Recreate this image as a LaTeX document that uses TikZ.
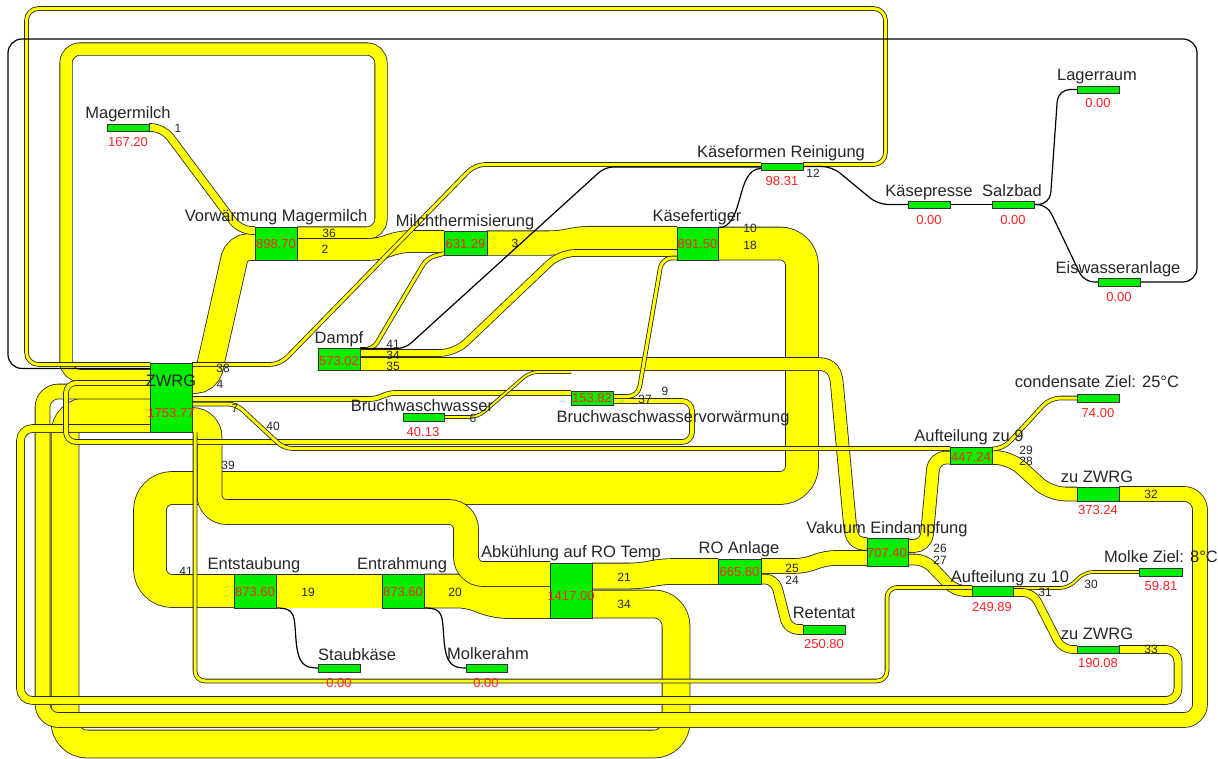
\documentclass[tikz,border=0pt]{standalone}
\usepackage{fontspec}
\setmainfont{Liberation Sans}
\pgfdeclarelayer{bands}
\pgfsetlayers{bands,main}
\definecolor{bandY}{RGB}{255,255,0}
\definecolor{boxG}{RGB}{0,238,0}
\definecolor{valR}{RGB}{255,35,35}
\newcommand\flowband[3][]{%
  \draw[#1,line width=#2pt+1.6pt,draw=black!85] #3;%
  \draw[#1,line width=#2pt,draw=bandY] #3;}
\begin{document}
\begin{tikzpicture}[x=1pt,y=-1pt,
  gbox/.style={draw=black!80,line width=0.7pt,fill=boxG,inner sep=0pt,outer sep=0pt,minimum width=42pt},
  lab/.style={anchor=base,inner sep=0pt,font=\fontsize{16.5}{19}\selectfont,text=black!85},
  val/.style={anchor=base,inner sep=0pt,font=\fontsize{13}{15}\selectfont,text=valR},
  num/.style={anchor=base,inner sep=0pt,font=\fontsize{12}{14}\selectfont,text=black!85},
  zline/.style={draw=black,line width=1.2pt}]
\useasboundingbox (0,0) rectangle (1218,758);
% ---------------- boxes
\node[gbox,minimum height=7pt] (mm) at (128,127.5) {};
\node[gbox,minimum height=33pt] (vm) at (276,243.5) {};
\node[gbox,minimum width=43pt,minimum height=24pt] (mt) at (465.5,243) {};
\node[gbox,minimum width=41pt,minimum height=33pt] (kf) at (697.5,243.5) {};
\node[gbox,minimum height=7pt] (kr) at (782,166.5) {};
\node[gbox,minimum height=7pt] (kp) at (929,204.5) {};
\node[gbox,minimum height=7pt] (sb) at (1013,204.5) {};
\node[gbox,minimum height=7pt] (lr) at (1098,89.5) {};
\node[gbox,minimum height=8pt] (ew) at (1119,282) {};
\node[gbox,minimum height=22pt] (dp) at (339,359) {};
\node[gbox,minimum height=69pt] (zw) at (171,397.5) {};
\node[gbox,minimum width=41pt,minimum height=8pt] (bw) at (423.5,417) {};
\node[gbox,minimum height=14pt] (bv) at (592,398) {};
\node[gbox,minimum width=41pt,minimum height=28pt] (ve) at (887.5,552) {};
\node[gbox,minimum height=17pt] (a9) at (971,455.5) {};
\node[gbox,minimum height=8pt] (cz) at (1098,398) {};
\node[gbox,minimum height=14pt] (z1) at (1098,494) {};
\node[gbox,minimum width=41pt,minimum height=10pt] (a10) at (992.5,591) {};
\node[gbox,minimum width=43pt,minimum height=8pt] (mz) at (1160.5,572) {};
\node[gbox,minimum height=7pt] (z2) at (1098,649.5) {};
\node[gbox,minimum width=43pt,minimum height=25pt] (ro) at (739.5,571.5) {};
\node[gbox,minimum height=9pt] (rt) at (824,629.5) {};
\node[gbox,minimum height=55pt] (ak) at (571,590.5) {};
\node[gbox,minimum height=34pt] (er) at (403,591) {};
\node[gbox,minimum height=34pt] (es) at (255,591) {};
\node[gbox,minimum height=8pt] (sk) at (339,668) {};
\node[gbox,minimum width=41pt,minimum height=8pt] (mr) at (486.5,668) {};
\coordinate (bwx) at (571,372);
% ---------------- flows
\begin{pgfonlayer}{bands}
\fill[white] (0,0) rectangle (1218,758);
\flowband[rounded corners=22pt]{27}{([yshift=-41pt]ak.north east) -- (676,604) -- (676,744) -- (65,744) -- (65,411.5) -- ([yshift=-48.5pt]zw.north west)}
\flowband[rounded corners=16pt]{14}{(z1.east) -- (1200,494) -- (1200,720) -- (42.5,720) -- (42.5,391.5) -- ([yshift=-28.5pt]zw.north west)}
\flowband[rounded corners=12pt]{7}{(z2.east) -- (1178,649.5) -- (1178,700.5) -- (20.5,700.5) -- (20.5,428.5) -- ([yshift=-65.5pt]zw.north west)}
\flowband[rounded corners=14pt]{11.5}{([yshift=-6pt]vm.north east) -- (381,233) -- (381,49) -- (66,49) -- (66,375.5) -- ([yshift=-12.5pt]zw.north west)}
\flowband[rounded corners=12pt]{3}{([yshift=-1.5pt]kr.north east) -- (885.5,164.5) -- (885.5,8.5) -- (26.5,8.5) -- (26.5,364.5) -- ([yshift=-1.5pt]zw.north west)}
\draw[zline,rounded corners=14pt] (ew.east) -- (1197,282) -- (1197,39) -- (8,39) -- (8,368.5) -- ([yshift=-5.5pt]zw.north west);
\flowband[rounded corners=22pt]{32}{(kf.east) -- (802,243.5) -- (802,488) -- (150,488) -- (150,591) -- (es.west)}
\flowband[rounded corners=12pt]{33}{(er.east) -- (470,591) -- (495,601.5) -- ([yshift=-38.5pt]ak.north west)}
\flowband{33}{(es.east) -- (er.west)}
\flowband[rounded corners=17pt]{24}{([yshift=-57pt]zw.north east) -- (209.5,420) -- (209.5,512) -- (466,512) -- (466,574) -- ([yshift=-11pt]ak.north west)}
\flowband[rounded corners=10pt]{4}{([yshift=-10pt]bv.north east) -- (692,401) -- (692,442) -- (66,442) -- (66,383) -- ([yshift=-20pt]zw.north west)}
\flowband[rounded corners=12pt]{26}{([yshift=-17pt]zw.north east) -- (207,380) -- (237,247) -- ([yshift=-20pt]vm.north west)}
\flowband[rounded corners=12pt]{7}{(mm.east) -- (163,127.5) -- (240,230.5) -- ([yshift=-3.5pt]vm.north west)}
\flowband[rounded corners=10pt]{21}{([yshift=-22.5pt]vm.north east) -- (378,249.5) -- (400,241.5) -- ([yshift=-10.5pt]mt.north west)}
\flowband[rounded corners=10pt]{23.5}{(mt.east) -- (560,243) -- (580,238.5) -- ([yshift=-11.5pt]kf.north west)}
\flowband[rounded corners=10pt]{3}{([yshift=-1.5pt]zw.north east) -- (280,364.5) -- (475,164.5) -- ([yshift=-1.5pt]kr.north west)}
\flowband[rounded corners=8pt]{3}{([yshift=-1.5pt]dp.north east) -- (373,349.5) -- (427,258) -- ([yshift=-22.5pt]mt.north west)}
\draw[zline,rounded corners=8pt] ([yshift=-0.5pt]dp.north east) -- (405,348.5) -- (605,167) -- ([yshift=-4pt]kr.north west);
\flowband[rounded corners=15pt]{6}{([yshift=-5pt]dp.north east) -- (455,353) -- (560,253) -- ([yshift=-26pt]kf.north west)}
\flowband{12}{([yshift=-16pt]dp.north east) -- (818,364) .. controls (832,364) and (836,372) .. (837,385) -- (850,525) .. controls (851,538) and (855,544) .. ([yshift=-6pt]ve.north west)}
\flowband[rounded corners=8pt]{3}{([yshift=-41pt]zw.north east) -- (236,404) -- (284,448.5) -- ([yshift=-1.5pt]a9.north west)}
\flowband[rounded corners=5pt]{4}{([yshift=-36pt]zw.north east) -- (375,399) -- (390,393) -- ([yshift=-2pt]bv.north west)}
\flowband[rounded corners=10pt]{3}{([yshift=-5.5pt]bv.north east) -- (638,396.5) -- (662,258) -- ([yshift=-31pt]kf.north west)}
\flowband[rounded corners=8pt]{2}{(bw.east) -- (478,417) -- (530,372) -- (bwx)}
\flowband[rounded corners=10pt]{25}{([yshift=-13pt]ak.north east) -- (640,576) -- (662,571.5) -- (ro.west)}
\flowband[rounded corners=10pt]{9}{([yshift=-20pt]ro.north east) -- (775,579) -- (788,629.5) -- (rt.west)}
\flowband[rounded corners=10pt]{14}{([yshift=-7pt]ro.north east) -- (805,566) -- (825,558) -- ([yshift=-20pt]ve.north west)}
\flowband[rounded corners=12pt]{12}{([yshift=-8pt]ve.north east) -- (926,546) -- (934,457.5) -- ([yshift=-10.5pt]a9.north west)}
\flowband[rounded corners=10pt]{10}{([yshift=-21.5pt]ve.north east) -- (925,559.5) -- (955,591) -- (a10.west)}
\flowband[rounded corners=15pt]{13}{([yshift=-10.5pt]a9.north east) -- (1010,457.5) -- (1050,494) -- (z1.west)}
\flowband[rounded corners=10pt]{3}{([yshift=-2pt]a9.north east) -- (1003,449) -- (1050,398) -- (cz.west)}
\flowband[rounded corners=8pt]{2}{([yshift=-2pt]a10.north east) -- (1068,588) -- (1085,572) -- (mz.west)}
\flowband[rounded corners=10pt]{7}{([yshift=-6.5pt]a10.north east) -- (1033,592.5) -- (1062,649.5) -- (z2.west)}
\flowband[rounded corners=10pt]{3}{([yshift=-1.5pt]a10.north west) -- (887,587.5) -- (887,681) -- (195,681) -- ([xshift=3pt]zw.south east)}
\draw[zline] ([yshift=-0.8pt]kf.north east) .. controls (745,227.5) and (735,168.5) .. ([yshift=-5.5pt]kr.north west);
\draw[zline,rounded corners=10pt] (kr.east) -- (832,166.5) -- (878,204.5) -- (kp.west);
\draw[zline] (kp.east) -- (sb.west);
\draw[zline,rounded corners=12pt] (sb.east) -- (1050,204.5) -- (1058,89.5) -- (lr.west);
\draw[zline,rounded corners=10pt] (sb.east) -- (1047,204.5) -- (1084,282) -- (ew.west);
\draw[zline] (es.south east) .. controls (296,608) and (294,615) .. (296,640) .. controls (298,665) and (305,668) .. (sk.west);
\draw[zline] (er.south east) .. controls (444,608) and (442,615) .. (444,640) .. controls (446,665) and (453,668) .. (mr.west);
\end{pgfonlayer}
% ---------------- labels
\node[lab] (tmm) at (128,118) {Magermilch};
\node[lab] (tvm) at (276,221) {Vorwärmung Magermilch};
\node[lab] (tmt) at (465,226) {Milchthermisierung};
\node[lab] (tkf) at (697,221) {Käsefertiger};
\node[lab] (tkr) at (781,157) {Käseformen Reinigung};
\node[lab] (tkp) at (929,196) {Käsepresse};
\node[lab] (tsb) at (1012,196) {Salzbad};
\node[lab] (tlr) at (1097,80) {Lagerraum};
\node[lab] (tew) at (1118,273) {Eiswasseranlage};
\node[lab] (tdp) at (339,343) {Dampf};
\node[lab] (tzw) at (171,386) {ZWRG};
\node[lab] (tbw) at (422,411) {Bruchwaschwasser};
\node[lab] (tbv) at (673,422) {Bruchwaschwasservorwärmung};
\node[lab] (tve) at (887,533) {Vakuum Eindampfung};
\node[lab] (ta9) at (969,441) {Aufteilung zu 9};
\node[lab] (tcz) at (1097,387) {condensate Ziel: 25°C};
\node[lab] (tz1) at (1097,482) {zu ZWRG};
\node[lab] (ta10) at (1010,582) {Aufteilung zu 10};
\node[lab,anchor=base west] (tmz) at (1104,562) {Molke Ziel: 8°C};
\node[lab] (tz2) at (1097,639) {zu ZWRG};
\node[lab] (tro) at (739,553) {RO Anlage};
\node[lab] (trt) at (824,618) {Retentat};
\node[lab] (tak) at (571,557) {Abkühlung auf RO Temp};
\node[lab] (ter) at (402,569) {Entrahmung};
\node[lab] (tes) at (254,569) {Entstaubung};
\node[lab,anchor=base west] (tsk) at (318,660) {Staubkäse};
\node[lab,anchor=base west] (tmr) at (447,659) {Molkerahm};
% ---------------- values
\node[val] (vmm) at (128,146) {167.20};
\node[val] (vvm) at (276,248) {898.70};
\node[val] (vmt) at (465.5,248) {631.29};
\node[val] (vkf) at (697.5,248) {891.50};
\node[val] (vkr) at (782,185) {98.31};
\node[val] (vkp) at (929,224) {0.00};
\node[val] (vsb) at (1013,224) {0.00};
\node[val] (vlr) at (1098,107) {0.00};
\node[val] (vew) at (1119,301) {0.00};
\node[val] (vdp) at (339,365) {573.02};
\node[val] (vzw) at (171,417) {1753.77};
\node[val] (vbw) at (423,436) {40.13};
\node[val] (vbv) at (592,402) {153.82};
\node[val] (vve) at (887,557) {707.40};
\node[val] (va9) at (971,461) {447.24};
\node[val] (vcz) at (1098,417) {74.00};
\node[val] (vz1) at (1098,514) {373.24};
\node[val] (va10) at (992,611) {249.89};
\node[val] (vmz) at (1161,590) {59.81};
\node[val] (vz2) at (1098,667) {190.08};
\node[val] (vro) at (739.5,576) {665.60};
\node[val] (vrt) at (824,648) {250.80};
\node[val] (vak) at (571,600) {1417.00};
\node[val] (ver) at (403,596) {873.60};
\node[val] (ves) at (255,596) {873.60};
\node[val] (vsk) at (339,687) {0.00};
\node[val] (vmr) at (486,687) {0.00};
% ---------------- flow numbers
\node[num] (n1) at (178,132) {1};
\node[num] (n36) at (329,237) {36};
\node[num] (n2) at (325,253) {2};
\node[num] (n3) at (515,247) {3};
\node[num] (n10) at (750,232) {10};
\node[num] (n18) at (750,249) {18};
\node[num] (n12) at (813,177) {12};
\node[num] (n38) at (223,372) {38};
\node[num] (n4) at (220,388) {4};
\node[num] (n7) at (235,412) {7};
\node[num] (n40) at (273,430) {40};
\node[num] (n39) at (228,469) {39};
\node[num] (n41a) at (393,348) {41};
\node[num] (n34a) at (393,359) {34};
\node[num] (n35) at (393,370) {35};
\node[num] (n6) at (473,422) {6};
\node[num] (n37) at (645,403) {37};
\node[num] (n9) at (665,395) {9};
\node[num] (n29) at (1026,454) {29};
\node[num] (n28) at (1026,465) {28};
\node[num] (n32) at (1151,498) {32};
\node[num] (n26) at (940,552) {26};
\node[num] (n27) at (940,564) {27};
\node[num] (n30) at (1091,588) {30};
\node[num] (n31) at (1045,596) {31};
\node[num] (n33) at (1151,653) {33};
\node[num] (n21) at (624,581) {21};
\node[num] (n34b) at (624,608) {34};
\node[num] (n25) at (792,572) {25};
\node[num] (n24) at (792,584) {24};
\node[num] (n20) at (455,596) {20};
\node[num] (n19) at (308,596) {19};
\node[num] (n41b) at (186,575) {41};
\end{tikzpicture}
\end{document}
